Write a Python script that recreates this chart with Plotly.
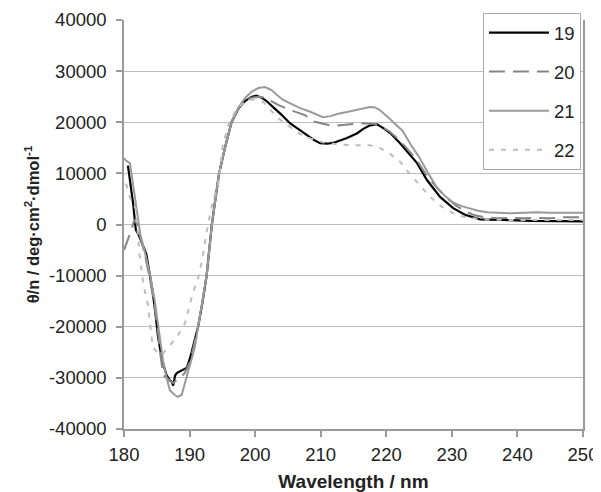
import plotly.graph_objects as go

# ---- data ----
x19 = [180.6, 181.0, 181.4, 181.8, 182.4, 183.0, 183.4, 183.9, 184.4, 184.8, 185.2, 185.8, 186.5, 187.0,
       187.3, 187.5, 187.8, 188.1, 188.8, 189.6, 190.1, 190.6, 191.3, 192.0, 192.6, 193.0, 193.4, 194.0,
       194.5, 195.4, 196.4, 197.5, 198.5, 199.5, 200.2, 201.0, 201.7, 202.7, 204.0, 205.3, 206.6, 207.9,
       209.0, 209.9, 211.0, 212.0, 213.0, 214.0, 215.5, 216.5, 217.5, 218.6, 219.6, 220.6, 222.1, 223.4,
       224.7, 226.2, 227.2, 228.2, 230.2, 232.0, 234.3, 236.0, 238.0, 240.0, 242.0, 244.0, 246.0, 248.0, 250.0]
y19 = [11500, 8000, 4000, -1000, -2500, -4500, -5800, -9500, -13400, -17500, -22000, -26500, -29500, -30500,
       -30800, -31500, -29500, -29000, -28500, -28000, -26000, -23500, -20000, -15000, -10000, -5000, 0, 5500,
       10000, 15000, 20000, 22800, 24200, 25000, 25200, 24800, 24200, 23000, 21500, 19800, 18600, 17500,
       16500, 15900, 15800, 16000, 16400, 16900, 17800, 18700, 19400, 19600, 18800, 17900, 15900, 14000,
       12000, 8700, 7000, 5400, 3200, 1900, 1000, 900, 800, 800, 700, 700, 600, 600, 600]

x20 = [180.0, 180.6, 181.0, 181.6, 182.0, 182.5, 183.2, 184.0, 184.6, 185.2, 185.6, 186.0, 186.5, 187.0,
       187.5, 188.0, 188.6, 189.3, 190.0, 190.6, 191.3, 192.0, 192.6, 193.0, 193.4, 194.0, 194.5, 195.4,
       196.4, 197.5, 198.5, 199.5, 200.5, 201.5, 202.3, 203.5, 205.3, 207.6, 209.1, 210.5, 211.7, 213.7,
       216.0, 218.0, 219.0, 220.5, 222.0, 223.4, 224.7, 226.2, 227.7, 229.0, 230.5, 232.0, 233.5, 235.0,
       237.0, 239.0, 241.0, 243.0, 245.0, 247.0, 249.0, 250.0]
y20 = [-5000, -3000, -1500, 1000, 0, -2500, -6000, -11000, -15500, -21000, -26000, -29500, -30000, -30500,
       -31000, -30500, -30000, -29000, -27000, -24000, -20000, -15000, -10000, -5000, 0, 5500, 10000, 15000,
       20000, 22800, 24200, 24800, 25000, 24800, 24200, 23400, 22400, 21400, 20100, 19600, 19300, 19500,
       19800, 19700, 19300, 18200, 16500, 14500, 12500, 9500, 7200, 5500, 3800, 2600, 1800, 1400,
       1200, 1300, 1200, 1300, 1200, 1400, 1400, 1400]

x21 = [180.0, 180.3, 180.9, 181.5, 182.0, 182.5, 183.2, 184.0, 184.7, 185.5, 186.0, 186.5, 187.0, 187.6,
       188.2, 188.8, 189.3, 189.8, 190.1, 190.8, 191.3, 192.0, 192.6, 193.0, 193.4, 194.0, 194.5, 195.4,
       196.4, 197.5, 198.5, 199.5, 200.5, 201.5, 202.5, 203.3, 204.2, 205.5, 206.8, 208.5, 210.3, 211.5,
       212.5, 214.0, 215.5, 216.5, 217.5, 218.3, 219.0, 220.6, 221.5, 222.5, 223.8, 225.1, 226.4, 227.7,
       229.0, 230.2, 231.5, 232.8, 234.0, 235.4, 237.0, 239.0, 241.0, 243.0, 245.0, 247.0, 249.0, 250.0]
y21 = [13000, 12500, 12000, 7000, 2000, -2000, -5500, -10000, -15000, -22000, -27000, -30000, -32400, -33200,
       -33700, -33300, -31000, -29000, -27100, -24000, -20000, -15000, -10000, -5000, 0, 5500, 10000, 15000,
       20000, 23000, 24800, 26000, 26700, 26900, 26300, 25400, 24400, 23600, 22800, 22000, 21000, 21200,
       21600, 22000, 22400, 22800, 23000, 22900, 22400, 20600, 19500, 18300, 15500, 13000, 10000, 7300,
       5500, 4300, 3600, 3100, 2700, 2400, 2300, 2200, 2300, 2400, 2300, 2300, 2400, 2300]

x22 = [180.3, 181.0, 181.8, 182.4, 183.0, 183.6, 184.4, 185.2, 185.8, 186.7, 188.1, 189.3, 190.5, 191.4,
       191.9, 192.8, 193.6, 194.4, 195.0, 195.9, 197.0, 198.0, 199.2, 200.2, 201.2, 202.3, 203.5, 205.3,
       207.0, 208.5, 210.3, 212.5, 214.9, 217.5, 219.0, 220.5, 222.1, 223.5, 225.1, 226.4, 227.7, 229.0,
       230.2, 231.5, 232.8, 235.0, 238.0, 241.0, 244.0, 247.0, 250.0]
y22 = [8000, 5000, 3000, -6300, -12000, -15400, -24000, -25200, -25500, -24000, -22000, -19300, -13400, -10000,
       -7000, 0, 4800, 8100, 15000, 19500, 22200, 23500, 24400, 24500, 24000, 22400, 20800, 19100,
       17600, 16800, 16100, 15700, 15500, 15500, 15000, 13900, 12300, 10000, 7700, 5800, 4200, 3000,
       2200, 1600, 1300, 1000, 900, 900, 900, 900, 900]

series_names = ["19", "20", "21", "22"]
xticks = [180, 190, 200, 210, 220, 230, 240, 250]
yticks = [-40000, -30000, -20000, -10000, 0, 10000, 20000, 30000, 40000]

styles = [
    dict(color="#000000", width=2.2, dash="solid"),
    dict(color="#858585", width=2.0, dash="16px,8px"),
    dict(color="#9a9a9a", width=2.0, dash="solid"),
    dict(color="#bdbdbd", width=2.0, dash="5px,7px"),
]

FONT = "Liberation Sans, Arial, sans-serif"

fig = go.Figure()
for i, (xs, ys) in enumerate([(x19, y19), (x20, y20), (x21, y21), (x22, y22)]):
    fig.add_trace(go.Scatter(x=xs, y=ys, mode="lines", name=series_names[i],
                             legendgroup=series_names[i], line=styles[i]))

# page body has an 8px default margin, so the figure is offset by 8px
fig.update_layout(
    width=593, height=484,
    margin=dict(l=116, r=18, t=12, b=63, autoexpand=False),
    paper_bgcolor="white", plot_bgcolor="white",
    font=dict(family=FONT, size=18.5, color="#222222"),
    showlegend=True,
    legend=dict(x=0.782, y=1.017, xanchor="left", yanchor="top",
                bgcolor="white", bordercolor="#a8a8a8", borderwidth=1,
                font=dict(size=18.5, family=FONT, color="#222222"),
                tracegroupgap=12, itemwidth=60),
    xaxis=dict(range=[180, 250], tickvals=xticks, ticktext=[str(v) for v in xticks],
               automargin=False,
               showgrid=False, zeroline=False, showline=True, linecolor="#9a9a9a", linewidth=1.5,
               ticks="outside", ticklen=6, tickcolor="#9a9a9a", tickwidth=1.5,
               ticklabelstandoff=2, tickfont=dict(size=18.5),
               title=dict(text="<b>Wavelength / nm</b>", font=dict(size=19, family=FONT), standoff=14)),
    yaxis=dict(range=[-40000, 40000], tickvals=yticks, ticktext=[str(v) for v in yticks],
               automargin=False,
               showgrid=True, gridcolor="#bdbdbd", gridwidth=1.3, zeroline=False,
               showline=True, linecolor="#9a9a9a", linewidth=1.5, mirror=True,
               ticks="outside", ticklen=6, tickcolor="#9a9a9a", tickwidth=1.5,
               ticklabelstandoff=6, tickfont=dict(size=18.5),
               title=dict(text="<b>θ/n / deg·cm<sup>2</sup>·dmol<sup>-1</sup></b>",
                          font=dict(size=16.5, family=FONT), standoff=5)),
)

fig.write_html("out.html")
